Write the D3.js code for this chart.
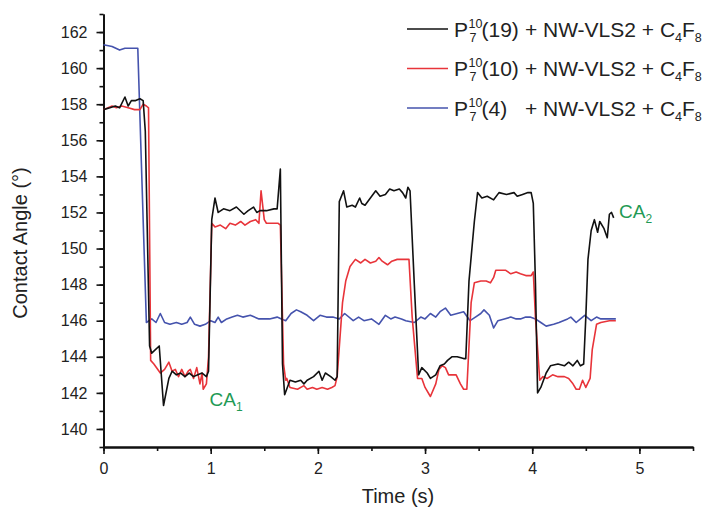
<!DOCTYPE html>
<html>
<head>
<meta charset="utf-8">
<script src="https://cdn.jsdelivr.net/npm/d3@7"></script>
<style>
	body { margin: 0; background: #fff; }
	text { font-family: "Liberation Sans", Arial, sans-serif; }
</style>
</head>
<body>
<svg id="chart" width="710" height="513"></svg>
<script>
/*
 * contact angle switching, three P7(n) samples
 */

var X_MIN = 0;
var X_MAX = 5.5;
var Y_MIN = 139;
var Y_MAX = 163;

var xMajorTicks = [0, 1, 2, 3, 4, 5];
var yMajorTicks = [140, 142, 144, 146, 148, 150, 152, 154, 156, 158, 160, 162];

var seriesLabels = ["(19)", "(10)", "(4)"];
var seriesColors = ["#111111", "#e8343a", "#4553ad"];

// [time (s), contact angle (deg)]
var black19 = [
	[0, 157.7], [0.06, 157.8], [0.11, 157.9], [0.15, 157.8], [0.2, 158.4], [0.23, 157.9],
	[0.26, 158.2], [0.3, 158.2], [0.34, 158.3], [0.37, 158.2], [0.39, 156.5], [0.43, 144.6],
	[0.45, 144.2], [0.52, 144.6], [0.56, 141.3], [0.61, 142.8], [0.64, 143.2], [0.68, 143.0],
	[0.72, 143.1], [0.76, 142.9], [0.8, 143.1], [0.84, 142.9], [0.88, 143.0], [0.92, 143.1],
	[0.96, 142.9], [0.98, 143.2], [1.01, 151.6], [1.04, 152.8], [1.07, 152.0], [1.12, 152.2],
	[1.18, 152.1], [1.24, 152.3], [1.31, 151.9], [1.35, 152.1], [1.4, 152.3], [1.43, 152.0],
	[1.46, 152.1], [1.52, 152.1], [1.59, 152.2], [1.62, 152.2], [1.65, 154.4], [1.67, 143.6],
	[1.69, 141.9], [1.74, 142.7], [1.79, 142.6], [1.84, 142.7], [1.87, 142.5], [1.9, 142.7],
	[1.96, 142.9], [2.01, 143.2], [2.04, 142.7], [2.07, 143.1], [2.12, 142.9], [2.16, 142.7],
	[2.18, 142.9], [2.2, 152.6], [2.24, 153.2], [2.27, 152.3], [2.32, 152.4], [2.35, 152.3],
	[2.39, 152.8], [2.41, 152.5], [2.44, 152.4], [2.49, 152.8], [2.54, 153.2], [2.58, 152.9],
	[2.63, 153.0], [2.67, 153.3], [2.71, 153.2], [2.76, 153.3], [2.79, 153.1], [2.82, 152.8],
	[2.84, 153.4], [2.86, 153.2], [2.9, 148.0], [2.94, 143.0], [2.97, 143.4], [3.02, 143.1],
	[3.05, 142.8], [3.1, 143.0], [3.14, 143.5], [3.18, 143.6], [3.21, 143.8], [3.25, 144.0],
	[3.3, 144.0], [3.36, 143.9], [3.38, 143.9], [3.41, 148.2], [3.46, 151.5], [3.49, 153.1],
	[3.53, 152.8], [3.58, 152.9], [3.64, 152.7], [3.69, 153.1], [3.76, 153.0], [3.83, 153.1],
	[3.86, 152.9], [3.91, 153.0], [3.96, 153.1], [3.99, 153.1], [4.01, 152.5], [4.03, 148.1],
	[4.05, 142.0], [4.08, 142.3], [4.13, 143.1], [4.17, 143.5], [4.24, 143.6], [4.3, 143.5],
	[4.34, 143.7], [4.38, 143.5], [4.42, 143.8], [4.45, 143.5], [4.48, 143.6], [4.5, 146.2],
	[4.52, 149.4], [4.55, 151.0], [4.58, 151.6], [4.61, 150.9], [4.63, 151.5], [4.67, 151.1],
	[4.7, 150.6], [4.72, 151.9], [4.74, 152.0], [4.76, 151.7]
];

var red10 = [
	[0, 157.7], [0.08, 157.9], [0.12, 157.8], [0.17, 157.9], [0.23, 157.8], [0.29, 157.7],
	[0.34, 157.7], [0.37, 158.0], [0.4, 157.9], [0.42, 157.8], [0.44, 143.8], [0.47, 143.6],
	[0.53, 143.1], [0.57, 143.3], [0.61, 143.7], [0.64, 143.2], [0.67, 143.3], [0.7, 142.9],
	[0.73, 143.3], [0.76, 142.9], [0.79, 143.2], [0.81, 143.3], [0.84, 142.8], [0.87, 143.4],
	[0.9, 142.5], [0.92, 143.1], [0.93, 142.2], [0.96, 142.5], [0.98, 144.0], [1.01, 151.4],
	[1.04, 151.2], [1.09, 151.3], [1.14, 151.1], [1.18, 151.4], [1.23, 151.3], [1.28, 151.5],
	[1.32, 151.3], [1.37, 151.5], [1.42, 151.6], [1.45, 151.4], [1.47, 153.2], [1.5, 151.6],
	[1.52, 151.4], [1.57, 151.4], [1.63, 151.4], [1.65, 151.3], [1.68, 143.6], [1.7, 142.7],
	[1.71, 142.8], [1.74, 142.3], [1.81, 142.2], [1.87, 142.4], [1.9, 142.2], [1.95, 142.3],
	[1.99, 142.2], [2.04, 142.3], [2.09, 142.2], [2.13, 142.3], [2.16, 142.4], [2.18, 142.9],
	[2.23, 147.0], [2.26, 148.2], [2.3, 149.0], [2.35, 149.4], [2.4, 149.2], [2.44, 149.4],
	[2.49, 149.2], [2.54, 149.3], [2.57, 149.5], [2.6, 149.3], [2.65, 149.1], [2.69, 149.3],
	[2.74, 149.4], [2.79, 149.4], [2.85, 149.4], [2.88, 146.2], [2.93, 142.8], [2.97, 142.8],
	[3.0, 142.3], [3.05, 141.8], [3.1, 142.5], [3.13, 143.3], [3.16, 143.5], [3.19, 143.4],
	[3.22, 143.0], [3.25, 143.0], [3.29, 143.0], [3.33, 142.5], [3.36, 142.2], [3.39, 142.2],
	[3.43, 147.0], [3.46, 148.1], [3.52, 148.2], [3.57, 148.2], [3.61, 148.1], [3.64, 148.4],
	[3.66, 148.8], [3.71, 148.8], [3.75, 148.8], [3.8, 148.6], [3.85, 148.7], [3.89, 148.6],
	[3.94, 148.5], [3.99, 148.5], [4.01, 148.7], [4.03, 146.2], [4.07, 142.7], [4.1, 142.9],
	[4.14, 142.8], [4.19, 143.0], [4.24, 142.9], [4.3, 142.9], [4.34, 142.8], [4.38, 142.5],
	[4.41, 142.2], [4.44, 142.2], [4.47, 142.7], [4.5, 142.3], [4.54, 142.8], [4.56, 144.4],
	[4.6, 145.8], [4.64, 145.9], [4.72, 146.0], [4.78, 146.0]
];

var blue4 = [
	[0, 161.3], [0.08, 161.2], [0.15, 161.0], [0.2, 161.1], [0.32, 161.1], [0.4, 145.9],
	[0.45, 146.1], [0.49, 145.9], [0.53, 146.4], [0.57, 145.9], [0.62, 145.8], [0.68, 145.9],
	[0.73, 145.8], [0.78, 145.9], [0.81, 146.2], [0.85, 145.8], [0.9, 145.7], [0.95, 145.8],
	[1.0, 146.0], [1.04, 145.9], [1.07, 146.2], [1.1, 145.9], [1.15, 146.1], [1.2, 146.2],
	[1.25, 146.3], [1.3, 146.2], [1.37, 146.3], [1.45, 146.1], [1.55, 146.1], [1.62, 146.2],
	[1.66, 146.1], [1.7, 146.0], [1.75, 146.4], [1.8, 146.6], [1.84, 146.5], [1.9, 146.3],
	[1.96, 146.0], [2.02, 146.3], [2.08, 146.2], [2.14, 146.2], [2.2, 146.1], [2.25, 146.4],
	[2.33, 146.0], [2.38, 146.2], [2.43, 146.0], [2.5, 146.1], [2.57, 145.8], [2.63, 146.3],
	[2.68, 146.1], [2.72, 146.2], [2.78, 146.1], [2.82, 146.0], [2.9, 145.9], [2.96, 146.2],
	[3.0, 146.1], [3.05, 146.4], [3.1, 146.2], [3.14, 146.5], [3.19, 146.7], [3.24, 146.3],
	[3.3, 146.4], [3.36, 146.5], [3.42, 146.0], [3.47, 146.2], [3.52, 146.4], [3.55, 146.6],
	[3.6, 146.3], [3.64, 145.6], [3.68, 146.0], [3.74, 146.1], [3.8, 146.2], [3.85, 146.1],
	[3.89, 146.1], [3.94, 146.2], [3.98, 146.2], [4.03, 146.1], [4.08, 145.9], [4.13, 145.7],
	[4.2, 145.8], [4.25, 145.9], [4.29, 146.0], [4.33, 146.1], [4.36, 146.2], [4.41, 145.9],
	[4.45, 146.1], [4.49, 146.3], [4.55, 146.0], [4.6, 146.2], [4.64, 146.1], [4.7, 146.1],
	[4.78, 146.1]
];

var svg = d3.select("#chart");

var x = d3.scaleLinear()
	.domain([X_MIN, X_MAX])
	.range([103.5, 693]);

var y = d3.scaleLinear()
	.domain([Y_MIN, Y_MAX])
	.range([447, 14]);

function styleAxis(g) {
	g.attr("font-family", null);
	g.selectAll("text")
		.attr("font-size", 16)
		.attr("fill", "#222");
	g.selectAll("line")
		.attr("stroke", "#111")
		.attr("stroke-width", 1.6);
	g.select(".domain")
		.attr("stroke", "#111")
		.attr("stroke-width", 1.8);
}

// minor ticks first, then the labelled axes on top
var xMinor = d3.range(0, 12).map(function(i) { return i * 0.5; });
var yMinor = d3.range(Y_MIN, Y_MAX + 1);

svg.append("g")
	.attr("transform", "translate(0," + y(Y_MIN) + ")")
	.call(d3.axisBottom(x).tickValues(xMinor).tickSize(4).tickSizeOuter(0).tickFormat(""))
	.call(styleAxis);

svg.append("g")
	.attr("transform", "translate(" + x(X_MIN) + ",0)")
	.call(d3.axisLeft(y).tickValues(yMinor).tickSize(4).tickSizeOuter(0).tickFormat(""))
	.call(styleAxis);

svg.append("g")
	.attr("transform", "translate(0," + y(Y_MIN) + ")")
	.call(d3.axisBottom(x).tickValues(xMajorTicks).tickSize(7).tickPadding(9).tickSizeOuter(0).tickFormat(d3.format("d")))
	.call(styleAxis);

svg.append("g")
	.attr("transform", "translate(" + x(X_MIN) + ",0)")
	.call(d3.axisLeft(y).tickValues(yMajorTicks).tickSize(7).tickPadding(9).tickSizeOuter(0).tickFormat(d3.format("d")))
	.call(styleAxis);

// axis titles
svg.append("text")
	.attr("x", 398)
	.attr("y", 503)
	.attr("text-anchor", "middle")
	.attr("font-size", 20)
	.attr("fill", "#222")
	.text("Time (s)");

svg.append("text")
	.attr("transform", "translate(27,243) rotate(-90)")
	.attr("text-anchor", "middle")
	.attr("font-size", 20)
	.attr("fill", "#222")
	.text("Contact Angle (°)");

// lines
var line = d3.line()
	.x(function(d) { return x(d[0]); })
	.y(function(d) { return y(d[1]); });

var allSeries = [black19, red10, blue4];

// draw blue, then red, then black on top
[2, 1, 0].forEach(function(i) {
	svg.append("path")
		.datum(allSeries[i])
		.attr("fill", "none")
		.attr("stroke", seriesColors[i])
		.attr("stroke-width", 1.6)
		.attr("stroke-linejoin", "round")
		.attr("d", line);
});

// legend
var LEGEND_X = 407;
var LEGEND_Y = 29;
var LEGEND_STEP = 39.5;
var LEGEND_FONT = 21;

var legend = svg.append("g");
var prefixEnd = 0;
var rows = [];

seriesLabels.forEach(function(label, i) {
	var cy = LEGEND_Y + i * LEGEND_STEP;
	var base = cy + 7.5;

	legend.append("line")
		.attr("x1", LEGEND_X)
		.attr("x2", LEGEND_X + 41)
		.attr("y1", cy)
		.attr("y2", cy)
		.attr("stroke", seriesColors[i])
		.attr("stroke-width", 1.6);

	var p = legend.append("text")
		.attr("x", LEGEND_X + 47)
		.attr("y", base)
		.attr("font-size", LEGEND_FONT)
		.attr("fill", "#222")
		.text("P");

	var px = LEGEND_X + 47 + p.node().getComputedTextLength() + 0.5;

	legend.append("text")
		.attr("x", px)
		.attr("y", base - 9)
		.attr("font-size", 12.5)
		.attr("fill", "#222")
		.text("10");

	legend.append("text")
		.attr("x", px + 1)
		.attr("y", base + 5)
		.attr("font-size", 12.5)
		.attr("fill", "#222")
		.text("7");

	var lab = legend.append("text")
		.attr("x", px + 13)
		.attr("y", base)
		.attr("font-size", LEGEND_FONT)
		.attr("fill", "#222")
		.text(label);

	prefixEnd = Math.max(prefixEnd, px + 13 + lab.node().getComputedTextLength());
	rows.push(base);
});

// the "+ NW-VLS2 + C4F8" part lines up on every row
rows.forEach(function(base) {
	var t = legend.append("text")
		.attr("x", prefixEnd + 6)
		.attr("y", base)
		.attr("font-size", LEGEND_FONT)
		.attr("fill", "#222");
	t.append("tspan").text("+ NW-VLS2 + C");
	t.append("tspan").attr("font-size", 12.5).attr("dy", 5).text("4");
	t.append("tspan").attr("dy", -5).text("F");
	t.append("tspan").attr("font-size", 12.5).attr("dy", 5).text("8");
});

// annotations
function annotate(tx, v, sub) {
	var t = svg.append("text")
		.attr("x", x(tx))
		.attr("y", y(v))
		.attr("font-size", 19)
		.attr("fill", "#1f9a55");
	t.append("tspan").text("CA");
	t.append("tspan").attr("font-size", 12).attr("dy", 5).text(sub);
}

annotate(0.99, 141.3, "1");
annotate(4.81, 151.7, "2");
</script>
</body>
</html>
